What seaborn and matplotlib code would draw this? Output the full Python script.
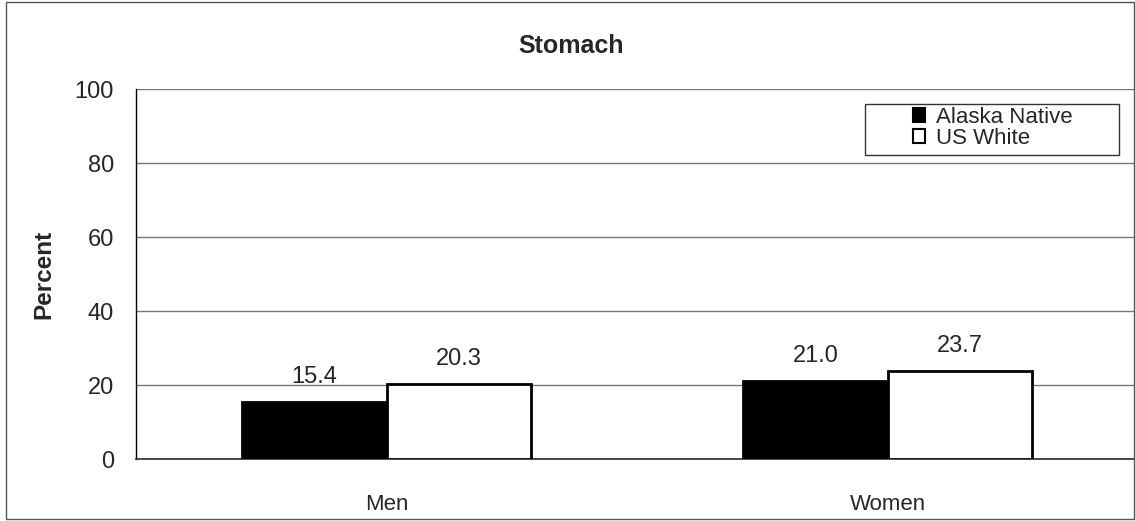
import matplotlib
matplotlib.use("Agg")
import matplotlib.pyplot as plt
import seaborn as sns
import pandas as pd
from matplotlib.patches import Rectangle

# chart data
groups = ["Men", "Women"]
series = ["Alaska Native", "US White"]
alaska_native = [15.4, 21.0]
us_white = [20.3, 23.7]
bar_colors = ["#000000", "#ffffff"]

df = pd.DataFrame({
    "group": groups * 2,
    "series": [series[0]] * 2 + [series[1]] * 2,
    "value": alaska_native + us_white,
})

sns.set_theme(style="white")
plt.rcParams["font.family"] = ["Liberation Sans", "DejaVu Sans"]

W, H = 1135, 521
fig = plt.figure(figsize=(W / 100, H / 100), dpi=100)
ax = fig.add_axes([136 / W, 1 - 459 / H, 1002 / W, 370 / H])

sns.barplot(data=df, x="group", y="value", hue="series", order=groups,
            hue_order=series, palette=bar_colors, width=0.575, gap=0,
            edgecolor="black", linewidth=2, saturation=1, ax=ax, zorder=3)

ax.set_ylim(0, 100)
ax.set_xlim(-0.5, 1.5)
ax.set_yticks([0, 20, 40, 60, 80, 100])
ax.yaxis.grid(True, color="#777777", linewidth=1)
ax.set_axisbelow(True)
for s in ["top", "right"]:
    ax.spines[s].set_visible(False)
ax.spines["left"].set_color("black")
ax.spines["bottom"].set_color("#333333")
ax.spines["left"].set_linewidth(1)
ax.tick_params(axis="y", labelsize=17, length=0, pad=16)
ax.tick_params(axis="x", labelsize=16, length=0, pad=25)
ax.set_xlabel("")
ax.set_ylabel("Percent", fontsize=17.5, fontweight="bold", labelpad=14)

fig.text(571 / W, 1 - 53 / H, "Stomach", fontsize=18, fontweight="bold",
         ha="center", va="baseline")

for cont in ax.containers:
    ax.bar_label(cont, fmt="%.1f", fontsize=17, padding=10)

# legend: frame drawn separately so its box can be wider than the entries
leg = ax.legend(loc="upper left", bbox_to_anchor=(913 / W, 1 - 107 / H),
                bbox_transform=fig.transFigure,
                fontsize=16, frameon=False,
                handlelength=0.55, handleheight=0.55, handletextpad=0.5,
                borderpad=0, labelspacing=0.0, borderaxespad=0)
for h in leg.legend_handles:
    h.set_linewidth(1.5)
    h.set_edgecolor("black")

fig.patches.append(Rectangle((865 / W, 1 - 155 / H), 254 / W, 51 / H,
                             transform=fig.transFigure, fill=False,
                             edgecolor="#333333", linewidth=1))

fig.patches.append(Rectangle((6 / W, 2 / H), 1 - 7 / W, 1 - 4 / H,
                             transform=fig.transFigure, fill=False,
                             edgecolor="#555555", linewidth=1))

fig.savefig("out.png", dpi=100)
